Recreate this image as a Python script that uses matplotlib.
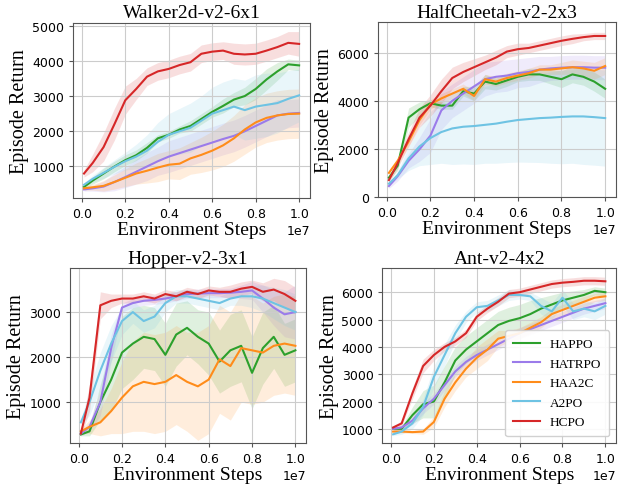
import numpy as np
import matplotlib
matplotlib.use("Agg")
import matplotlib.pyplot as plt

# environment steps (in units of 1e7)
steps = [0.01, 0.05, 0.10, 0.15, 0.20, 0.25, 0.30, 0.35, 0.40, 0.45, 0.50,
         0.55, 0.60, 0.65, 0.70, 0.75, 0.80, 0.85, 0.90, 0.95, 1.00]

algos = ["HAPPO", "HATRPO", "HAA2C", "A2PO", "HCPO"]
colors = ["#2ca02c", "#9b7bea", "#ff8c1a", "#6ec3e3", "#d62728"]

# Walker2d-v2-6x1
walker_mean = {
    "HCPO":   [800, 1100, 1550, 2200, 2880, 3200, 3550, 3700, 3770, 3880, 3960,
               4200, 4260, 4290, 4200, 4180, 4200, 4290, 4390, 4510, 4480],
    "HAPPO":  [420, 600, 800, 1000, 1180, 1320, 1530, 1800, 1900, 2050, 2150,
               2350, 2550, 2720, 2900, 3000, 3200, 3470, 3700, 3900, 3870],
    "A2PO":   [480, 650, 820, 990, 1150, 1280, 1450, 1700, 1900, 2000, 2100,
               2300, 2500, 2600, 2700, 2600, 2700, 2750, 2800, 2920, 3020],
    "HATRPO": [350, 380, 430, 560, 700, 850, 1000, 1150, 1280, 1380, 1480,
               1580, 1680, 1780, 1870, 2000, 2150, 2300, 2450, 2500, 2520],
    "HAA2C":  [380, 410, 450, 560, 680, 800, 880, 970, 1050, 1080, 1230,
               1330, 1450, 1600, 1800, 2050, 2250, 2380, 2450, 2490, 2500],
}
walker_std = {
    "HCPO":   [100, 250, 400, 450, 400, 300, 250, 250, 250, 250, 250,
               250, 250, 250, 300, 300, 300, 300, 300, 320, 350],
    "HAPPO":  [50, 100, 150, 150, 150, 150, 150, 100, 100, 100, 150,
               150, 150, 200, 200, 250, 300, 300, 250, 150, 150],
    "A2PO":   [50, 100, 150, 200, 250, 350, 450, 550, 600, 650, 700,
               700, 750, 800, 800, 850, 900, 900, 850, 800, 750],
    "HATRPO": [50, 80, 150, 250, 300, 350, 400, 400, 450, 450, 450,
               450, 450, 450, 450, 450, 450, 450, 450, 400, 400],
    "HAA2C":  [50, 80, 150, 200, 250, 300, 350, 400, 400, 450, 450,
               500, 550, 600, 650, 700, 700, 700, 700, 700, 700],
}

# HalfCheetah-v2-2x3
cheetah_mean = {
    "HCPO":   [700, 1400, 2400, 3300, 3800, 4400, 4950, 5200, 5400, 5600, 5800,
               6050, 6150, 6200, 6300, 6400, 6500, 6580, 6650, 6700, 6700],
    "HAPPO":  [800, 1300, 3300, 3650, 3900, 3800, 3800, 4400, 4300, 4800, 4700,
               4850, 5000, 5100, 5100, 5000, 4900, 5100, 5000, 4800, 4500],
    "HAA2C":  [1000, 1500, 2300, 3200, 3850, 4100, 4300, 4500, 4200, 4900, 4800,
               4950, 5050, 5150, 5300, 5300, 5350, 5400, 5350, 5250, 5450],
    "HATRPO": [450, 860, 1500, 1980, 2550, 3600, 4000, 4300, 4600, 4900, 5000,
               5050, 5150, 5200, 5300, 5350, 5380, 5400, 5400, 5380, 5380],
    "A2PO":   [550, 900, 1600, 2100, 2450, 2700, 2850, 2920, 2950, 3000, 3050,
               3130, 3200, 3240, 3280, 3300, 3330, 3350, 3350, 3320, 3280],
}
cheetah_std = {
    "HCPO":   [100, 200, 300, 400, 450, 500, 450, 400, 350, 300, 300,
               250, 250, 200, 200, 200, 200, 200, 150, 150, 150],
    "HAPPO":  [100, 200, 400, 300, 150, 150, 150, 200, 300, 300, 250,
               250, 200, 250, 250, 300, 350, 350, 350, 400, 400],
    "HAA2C":  [100, 150, 200, 200, 200, 200, 200, 200, 200, 200, 200,
               200, 200, 200, 200, 200, 250, 300, 300, 350, 350],
    "HATRPO": [100, 200, 300, 500, 700, 800, 700, 700, 700, 700, 650,
               650, 600, 600, 550, 500, 500, 500, 500, 500, 500],
    "A2PO":   [50, 150, 500, 800, 1100, 1300, 1500, 1550, 1600, 1600, 1650,
               1700, 1750, 1800, 1850, 1900, 1950, 1950, 2000, 2000, 2000],
}

# Hopper-v2-3x1
hopper_mean = {
    "HCPO":   [300, 1100, 3150, 3250, 3300, 3300, 3350, 3300, 3400, 3350, 3450,
               3400, 3480, 3450, 3450, 3520, 3560, 3450, 3500, 3400, 3250],
    "HATRPO": [300, 450, 1000, 2200, 3100, 3200, 3250, 3270, 3300, 3350, 3400,
               3410, 3420, 3420, 3430, 3450, 3480, 3300, 3100, 2950, 3000],
    "A2PO":   [550, 1000, 1700, 2300, 2800, 3000, 2800, 2900, 3200, 3350, 3350,
               3300, 3250, 3200, 3300, 3350, 3350, 3300, 3200, 3100, 3000],
    "HAPPO":  [280, 350, 1000, 1500, 2100, 2300, 2450, 2400, 2050, 2500, 2650,
               2450, 2300, 1900, 2150, 2250, 1650, 2200, 2450, 2050, 2150],
    "HAA2C":  [350, 450, 550, 800, 1100, 1350, 1450, 1400, 1450, 1600, 1450,
               1350, 1500, 1950, 1800, 2200, 2150, 2100, 2250, 2300, 2250],
}
hopper_std = {
    "HCPO":   [50, 300, 300, 150, 100, 100, 100, 100, 100, 100, 100,
               100, 100, 100, 150, 150, 150, 200, 250, 300, 300],
    "HATRPO": [50, 100, 300, 300, 100, 100, 100, 100, 100, 100, 100,
               100, 100, 100, 100, 150, 200, 300, 400, 500, 600],
    "A2PO":   [50, 300, 400, 400, 300, 250, 250, 250, 200, 150, 150,
               150, 150, 150, 150, 200, 250, 300, 350, 400, 400],
    "HAPPO":  [30, 100, 400, 700, 800, 800, 700, 700, 700, 700, 600,
               600, 700, 700, 800, 800, 800, 800, 700, 700, 700],
    "HAA2C":  [50, 150, 300, 500, 800, 1000, 1100, 1100, 1100, 1100, 1100,
               1200, 1200, 1200, 1200, 1200, 1200, 1100, 1100, 1100, 1100],
}

# Ant-v2-4x2
ant_mean = {
    "HCPO":   [1050, 1200, 2300, 3300, 3700, 4000, 4200, 4500, 5100, 5400, 5650,
               5950, 6000, 6100, 6200, 6300, 6350, 6380, 6420, 6420, 6400],
    "HAPPO":  [1000, 1000, 1500, 1900, 2000, 2700, 3500, 3900, 4200, 4500, 4800,
               4950, 5050, 5200, 5400, 5550, 5700, 5800, 5900, 6050, 6000],
    "A2PO":   [800, 900, 1200, 1800, 2900, 3700, 4500, 5100, 5450, 5500, 5700,
               5900, 5900, 5850, 5500, 5300, 5800, 5300, 5400, 5300, 5500],
    "HATRPO": [1000, 1050, 1300, 1750, 2100, 2600, 3100, 3450, 3700, 3900, 4100,
               4300, 4500, 4650, 4800, 4950, 5100, 5250, 5400, 5500, 5600],
    "HAA2C":  [900, 900, 880, 900, 1250, 2100, 2700, 3200, 3600, 3900, 4300,
               4400, 4500, 4700, 4900, 5200, 5350, 5500, 5650, 5800, 5850],
}
ant_std = {
    "HCPO":   [50, 100, 200, 250, 200, 150, 150, 150, 150, 150, 150,
               150, 150, 150, 150, 150, 150, 150, 150, 150, 150],
    "HAPPO":  [50, 100, 300, 500, 600, 600, 500, 500, 500, 500, 500,
               500, 500, 500, 400, 350, 300, 250, 200, 150, 150],
    "A2PO":   [50, 100, 200, 300, 400, 400, 300, 200, 200, 200, 200,
               200, 150, 150, 300, 300, 300, 300, 300, 300, 300],
    "HATRPO": [50, 100, 150, 200, 200, 200, 200, 200, 200, 200, 200,
               200, 200, 200, 200, 200, 200, 200, 200, 200, 200],
    "HAA2C":  [50, 50, 50, 100, 200, 300, 300, 300, 400, 400, 300,
               200, 200, 200, 200, 200, 200, 200, 200, 150, 150],
}

panels = [
    ("Walker2d-v2-6x1", walker_mean, walker_std, (110, 5080),
     [1000, 2000, 3000, 4000, 5000], [0.117, 0.590, 0.378, 0.361]),
    ("HalfCheetah-v2-2x3", cheetah_mean, cheetah_std, (0, 7270),
     [0, 2000, 4000, 6000], [0.604, 0.592, 0.380, 0.360]),
    ("Hopper-v2-3x1", hopper_mean, hopper_std, (96, 3975),
     [1000, 2000, 3000], [0.112, 0.085, 0.377, 0.360]),
    ("Ant-v2-4x2", ant_mean, ant_std, (490, 6880),
     [1000, 2000, 3000, 4000, 5000, 6000], [0.611, 0.085, 0.373, 0.360]),
]

serif = "Liberation Serif"
fig = plt.figure(figsize=(6.26, 4.85), dpi=100)
x = np.array(steps) * 1e7

for title, means, stds, ylim, yticks, pos in panels:
    ax = fig.add_axes(pos)
    for name, c in zip(algos, colors):
        m = np.array(means[name], dtype=float)
        s = np.array(stds[name], dtype=float)
        ax.fill_between(x, m - s, m + s, color=c, alpha=0.15, lw=0)
        ax.plot(x, m, color=c, lw=1.5, label=name)
    ax.set_ylim(*ylim)
    ax.set_yticks(yticks)
    ax.set_title(title, fontfamily=serif, fontsize=14, pad=4)
    ax.set_xlabel("Environment Steps", fontfamily=serif, fontsize=14, labelpad=1)
    ax.set_ylabel("Episode Return", fontfamily=serif, fontsize=14.5, labelpad=2)
    ax.set_xticks(np.arange(0, 1.01, 0.2) * 1e7)
    ax.grid(True, color="#cccccc", lw=0.8)
    ax.tick_params(labelsize=9, length=3, color="#555555")
    ax.xaxis.get_offset_text().set_fontsize(9)
    for sp in ax.spines.values():
        sp.set_color("#555555")
    if title.startswith("Ant"):
        ax.legend(loc="lower right", prop={"family": serif, "size": 9.5},
                  handlelength=2.0, handletextpad=0.8, labelspacing=0.55,
                  borderpad=0.6, framealpha=0.9)

fig.savefig("out.png", dpi=100)
